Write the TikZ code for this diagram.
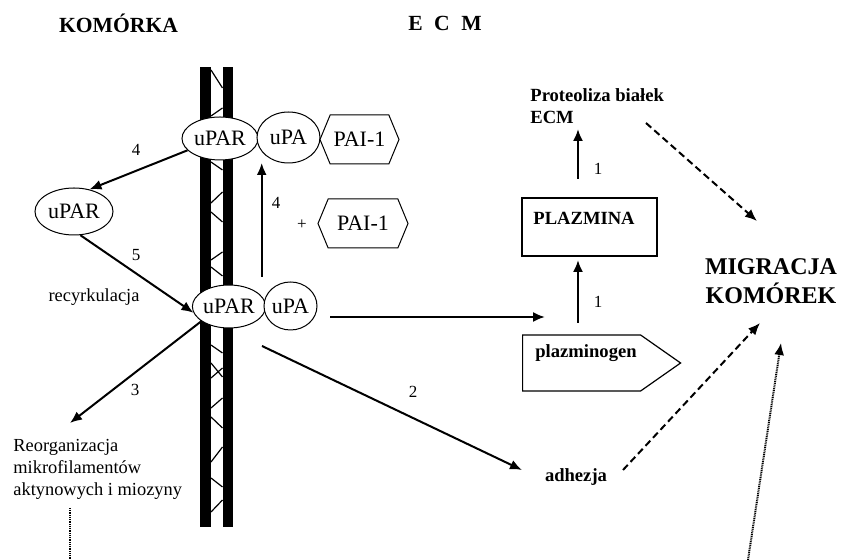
\documentclass[tikz,border=0pt]{standalone}
\usepackage{fontspec}
\setmainfont{Liberation Serif}
\usepackage{tikz}
\usetikzlibrary{shapes}
\usetikzlibrary{shapes.symbols}
\usetikzlibrary{arrows.meta}
\tikzset{mol/.style={ellipse, draw=black, fill=white, line width=0.5pt, inner sep=0pt, font=\fontsize{11}{13}\selectfont},
  inhib/.style={signal, signal to=west and east, signal pointer angle=135, draw=black, fill=white, line width=0.5pt, inner sep=0pt, minimum height=24.5pt, font=\fontsize{11}{13}\selectfont},
  arr/.style={-{Latex[length=6pt,width=5pt]}, line width=1pt},
  dasharr/.style={arr, dash pattern=on 3.5pt off 2pt},
  dotarr/.style={arr, dash pattern=on 0.5pt off 0.4pt},
  num/.style={inner sep=0pt, font=\fontsize{8.5}{10}\selectfont},
  txt/.style={inner sep=0pt, font=\fontsize{9.2}{11}\selectfont},
  lbl/.style={inner sep=0pt, font=\bfseries\fontsize{9.3}{11}\selectfont},
  head/.style={inner sep=0pt, font=\bfseries\fontsize{10.8}{13}\selectfont},
  box/.style={draw=black, line width=0.6pt, inner sep=0pt}}
\begin{document}
\begin{tikzpicture}[x=0.5pt, y=-0.5pt]
\useasboundingbox (0,0) rectangle (843,560);
% membrane
\fill (200,67) rectangle (211,527);
\fill (222.5,67) rectangle (233,527);
\foreach \a/\b in {70/88,116/108,162/170,203/192,212/222,260/252,267/276,345/353,363/377,378/368,408/398,417/428,462/447,478/487,512/500}
  \draw[line width=0.6pt] (211,\a) -- (222.5,\b);

\node[head] (cell) at (118.5,23) {KOMÓRKA};
\node[head] (ecm) at (445,23) {E\hspace{0.53em}C\hspace{0.53em}M};

\node[mol, minimum width=38pt, minimum height=21.5pt] (uparT) at (220,138.5) {uPAR};
\node[mol, minimum width=31.5pt, minimum height=25.5pt] (upaT) at (288.5,137.5) {uPA};
\node[inhib, minimum width=39.5pt] (paiT) at (359.5,139.5) {PAI-1};
\node[inhib, minimum width=45pt] (paiB) at (363,223.5) {PAI-1};
\node[num] (plus) at (302,225) {+};
\node[mol, minimum width=39pt, minimum height=23.5pt] (uparL) at (74,211.5) {uPAR};
\node[mol, minimum width=36pt, minimum height=21.5pt] (uparB) at (229,306.5) {uPAR};
\node[mol, minimum width=26.5pt, minimum height=24pt] (upaB) at (290.5,306) {uPA};

\node[txt] (recyk) at (94,297) {recyrkulacja};
\node[txt, anchor=north west, align=left] (reorg) at (13,439) {Reorganizacja\\mikrofilamentów\\aktynowych i miozyny};

\node[lbl, anchor=north west, align=left] (prot) at (530,88) {Proteoliza białek\\ECM};
\node[box, minimum width=67.5pt, minimum height=29pt] (plaz) at (589.5,227) {};
\node[lbl, anchor=west] (plaztxt) at (533,218) {PLAZMINA};
\node[box, signal, signal to=east, signal pointer angle=70, minimum width=79pt, minimum height=28pt, anchor=west] (plgn) at (522,363) {};
\node[lbl, anchor=west] (plgntxt) at (535,353) {plazminogen};
\node[lbl] (adh) at (576,477) {adhezja};
\node[inner sep=0pt, align=center, font=\bfseries\fontsize{12}{14.5}\selectfont] (migr) at (771,281.5) {MIGRACJA\\KOMÓREK};

\coordinate (c3) at (70,423);
\coordinate (v4a) at (261.7,277);
\coordinate (v4b) at (261.7,163);
\coordinate (h1a) at (330,317);
\coordinate (h1b) at (545,317);
\coordinate (d2a) at (262,346);
\coordinate (d2b) at (522,470);
\coordinate (p1a) at (578,323);
\coordinate (p1b) at (578,260);
\coordinate (p2a) at (578,179);
\coordinate (p2b) at (578,129);
\coordinate (m1a) at (646,123);
\coordinate (m1b) at (757,221);
\coordinate (m2a) at (623,470);
\coordinate (m2b) at (760,323);
\coordinate (m3a) at (748,560);
\coordinate (m3b) at (781,343);
\coordinate (r1a) at (70,508);
\coordinate (r1b) at (70,560);

\draw[arr] (uparT.200) -- (uparL.55);
\draw[arr] (uparL.-75) -- (uparB.190);
\draw[arr] (uparB.208) -- (c3);
\draw[arr] (v4a) -- (v4b);
\draw[arr] (h1a) -- (h1b);
\draw[arr] (d2a) -- (d2b);
\draw[arr] (p1a) -- (p1b);
\draw[arr] (p2a) -- (p2b);
\draw[dasharr] (m1a) -- (m1b);
\draw[dasharr] (m2a) -- (m2b);
\draw[dotarr] (m3a) -- (m3b);
\draw[line width=1pt, dash pattern=on 0.5pt off 0.4pt] (r1a) -- (r1b);

\node[num] (n4a) at (136,150) {4};
\node[num] (n5) at (136,255) {5};
\node[num] (n3) at (135,390) {3};
\node[num] (n4b) at (276,203) {4};
\node[num] (n2) at (413,392) {2};
\node[num] (n1a) at (598,302) {1};
\node[num] (n1b) at (598,169) {1};
\end{tikzpicture}
\end{document}
